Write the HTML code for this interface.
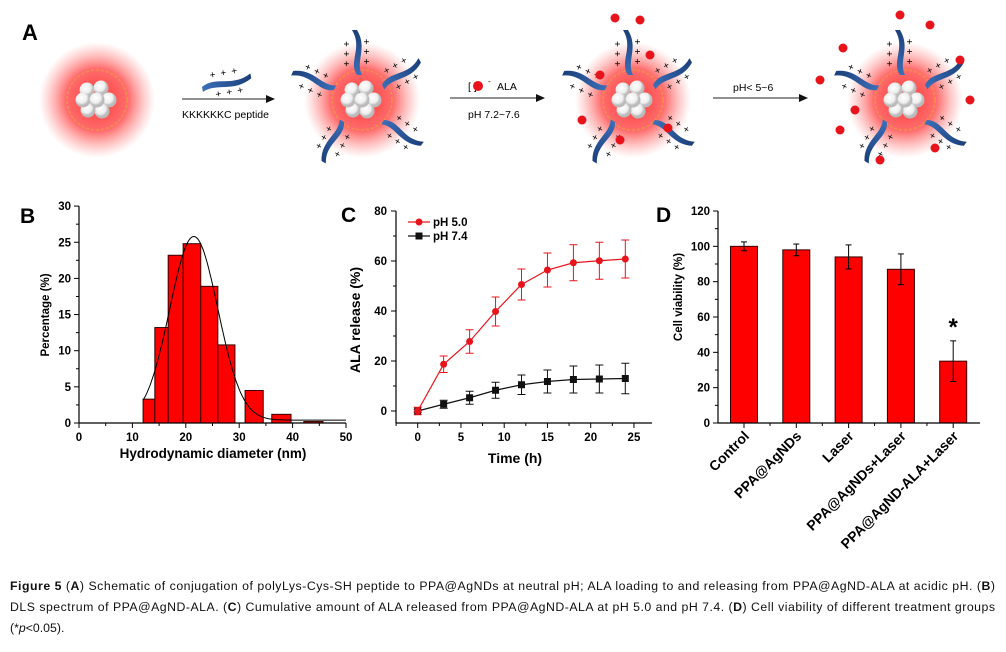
<!DOCTYPE html>
<html><head><meta charset="utf-8"><style>
body{margin:0;background:#fff;}
svg{display:block;font-family:"Liberation Sans",Arial,sans-serif;}
</style></head><body>
<svg id="fig" width="1006" height="652" viewBox="0 0 1006 652">
<defs>
<radialGradient id="glow"><stop offset="0" stop-color="#ff2a2a" stop-opacity="0.95"/><stop offset="0.55" stop-color="#ff4a4a" stop-opacity="0.8"/><stop offset="1" stop-color="#ff8080" stop-opacity="0"/></radialGradient>
<radialGradient id="ball" cx="0.4" cy="0.35"><stop offset="0" stop-color="#fff"/><stop offset="0.7" stop-color="#eee"/><stop offset="1" stop-color="#bbb"/></radialGradient>
<linearGradient id="pep" x1="0" x2="1"><stop offset="0" stop-color="#3b6fb8"/><stop offset="1" stop-color="#1b3f7a"/></linearGradient>
</defs>
<g id="schem">
<text x="22" y="40" font-size="22" font-weight="bold">A</text>
</g>
<g id="pb"></g>
<g id="pc"></g>
<g id="pd"></g>
<g font-size="12.3" fill="#111">
<text x="10" y="590" textLength="985" lengthAdjust="spacing"><tspan font-weight="bold">Figure 5</tspan> (<tspan font-weight="bold">A</tspan>) Schematic of conjugation of polyLys-Cys-SH peptide to PPA@AgNDs at neutral pH; ALA loading to and releasing from PPA@AgND-ALA at acidic pH. (<tspan font-weight="bold">B</tspan>)</text>
<text x="10" y="611" textLength="985" lengthAdjust="spacing">DLS spectrum of PPA@AgND-ALA. (<tspan font-weight="bold">C</tspan>) Cumulative amount of ALA released from PPA@AgND-ALA at pH 5.0 and pH 7.4. (<tspan font-weight="bold">D</tspan>) Cell viability of different treatment groups</text>
<text x="10" y="632">(*<tspan font-style="italic">p</tspan>&lt;0.05).</text>
</g>
</svg>
<script>
const NS="http://www.w3.org/2000/svg";
function mk(p,tag,a,txt){const e=document.createElementNS(NS,tag);for(const k in a)e.setAttribute(k,a[k]);if(txt!==undefined)e.textContent=txt;p.appendChild(e);return e;}

// ---------- Panel B data ----------
const binStart=[12.0,14.2,16.7,19.5,22.8,26.0,31.1,36.1,42.1];
const binEnd=[14.2,16.7,19.5,22.8,26.0,29.2,34.5,39.7,45.7];
const binPercent=[3.3,13.2,23.2,24.8,18.9,10.8,4.5,1.2,0.2];
const bXTicks=[0,10,20,30,40,50];
const bYTicks=[0,5,10,15,20,25,30];
const fitParams=[0.4,25.4,21.5,4.5]; // y0, A, center, sigma

// ---------- Panel C data ----------
const cTime=[0,3,6,9,12,15,18,21,24];
const cPH5=[0,18.7,27.8,39.8,50.6,56.4,59.3,60.1,60.8];
const cPH5Err=[1.5,3.3,4.7,5.8,6.2,6.8,7.2,7.4,7.6];
const cPH74=[0,2.7,5.3,8.3,10.5,11.8,12.6,12.8,13.0];
const cPH74Err=[0.5,1.6,2.6,3.2,3.9,4.6,5.4,5.6,6.1];
const cXTicks=[0,5,10,15,20,25];
const cYTicks=[0,20,40,60,80];

// ---------- Panel D data ----------
const dGroups=["Control","PPA@AgNDs","Laser","PPA@AgNDs+Laser","PPA@AgND-ALA+Laser"];
const dViability=[100,98,94,87,35];
const dErr=[2.5,3.3,6.8,8.7,11.5];
const dYTicks=[0,20,40,60,80,100,120];

// ---------- Schematic ----------
const S=document.getElementById('schem');
function particle(cx,cy,name){
  const g=mk(S,'g',{});
  
  
  mk(g,'circle',{cx,cy,r:58,fill:'url(#glow)'});
  mk(g,'circle',{cx,cy,r:30,fill:'none',stroke:'#e8a040','stroke-width':1.5,'stroke-dasharray':'3 2',opacity:0.7});
  const offs=[[-10,-10],[4,-12],[12,0],[5,11],[-9,10],[-14,0],[0,0]];
  offs.forEach(o=>mk(g,'circle',{cx:cx+o[0],cy:cy+o[1],r:7.5,fill:'url(#ball)'}));
  return g;
}
function peptide(g,x,y,ang,len){
  const p=mk(g,'g',{transform:`translate(${x},${y}) rotate(${ang})`});
  mk(p,'path',{d:`M0,0 C${len*0.3},-9 ${len*0.6},6 ${len},-5 L${len},0 C${len*0.6},11 ${len*0.3},-2 0,5 Z`,fill:'url(#pep)'});
  for(let i=0;i<3;i++){mk(p,'text',{x:len*0.25+i*len*0.22,y:-7,'font-size':10,'text-anchor':'middle'},'+');mk(p,'text',{x:len*0.3+i*len*0.22,y:13,'font-size':10,'text-anchor':'middle'},'+');}
}
particle(97,100,'bare-particle');
const p2=particle(362,100,'peptide-particle');
const p3=particle(633,100,'ala-loaded-particle');
const p4=particle(905,100,'ala-released-particle');
[[p2,362],[p3,633],[p4,905]].forEach(([g,cx])=>{
  [[-28,-10,-155],[20,-15,-30],[22,20,35],[-18,22,120],[-5,-25,-90]].forEach(a=>peptide(g,cx+a[0],100+a[1],a[2],45));
});
[[600,75],[650,55],[620,140],[668,128],[582,120],[640,20],[615,18]].forEach(p=>mk(p3,'circle',{cx:p[0],cy:p[1],r:4.5,fill:'#e8141c'}));
[[843,48],[840,130],[855,110],[935,148],[930,25],[880,160],[960,60],[970,100],[900,15],[820,80]].forEach(p=>mk(p4,'circle',{cx:p[0],cy:p[1],r:4.5,fill:'#e8141c'}));
function arrow(x1,x2,y,name){const g=mk(S,'g',{});mk(g,'line',{x1,y1:y,x2:x2-8,y2:y,stroke:'#222','stroke-width':1});mk(g,'path',{d:`M${x2-9},${y-4} L${x2},${y} L${x2-9},${y+4}Z`,fill:'#111'});return g;}
const a1=arrow(182,275,99,'arrow-peptide');
mk(a1,'text',{x:182,y:118,'font-size':10.5},'KKKKKKC peptide');
peptide(a1,202,87,-10,50);
const a2=arrow(450,545,98,'arrow-ala-loading');
mk(a2,'text',{x:468,y:90,'font-size':10.5},'[   ]');mk(a2,'circle',{cx:478,cy:86,r:5,fill:'#e8141c'});
mk(a2,'text',{x:488,y:84,'font-size':8},'-');mk(a2,'text',{x:497,y:90,'font-size':10.5},'ALA');
mk(a2,'text',{x:468,y:118,'font-size':10.5},'pH 7.2~7.6');
const a3=arrow(713,808,98,'arrow-acidic-release');
mk(a3,'text',{x:733,y:91,'font-size':10.5},'pH< 5~6');

// ---------- Generic axis helpers ----------
function axisY(g,x,yScale,ticks){
  mk(g,'line',{x1:x,y1:yScale(ticks[ticks.length-1]),x2:x,y2:yScale(ticks[0]),stroke:'#000','stroke-width':1.2});
  ticks.forEach(t=>{const y=yScale(t);mk(g,'line',{x1:x-5,y1:y,x2:x,y2:y,stroke:'#000'});const tx=mk(g,'text',{x:x-8,y:y+4,'font-size':11.5,'font-weight':'bold','text-anchor':'end'},t);});
  for(let i=0;i<ticks.length-1;i++){const y=yScale((ticks[i]+ticks[i+1])/2);mk(g,'line',{x1:x-3,y1:y,x2:x,y2:y,stroke:'#000'});}
}

// ---------- Panel B ----------
(function(){
  const g=document.getElementById('pb');
  const X=v=>79+v*5.34, Y=v=>423-v*7.23;
  mk(g,'text',{x:20,y:223,'font-size':21,'font-weight':'bold'},'B');
  binPercent.forEach((v,i)=>{const r=mk(g,'rect',{x:X(binStart[i]),y:Y(v),width:X(binEnd[i])-X(binStart[i]),height:Y(0)-Y(v),fill:'#f00',stroke:'#300','stroke-width':1});
    });
  let d='';for(let x=12;x<=50;x+=0.25){const y=fitParams[0]+fitParams[1]*Math.exp(-Math.pow(x-fitParams[2],2)/(2*fitParams[3]*fitParams[3]));d+=(d?'L':'M')+X(x).toFixed(1)+','+Y(y).toFixed(1);}
  const fit=mk(g,'path',{d,fill:'none',stroke:'#000','stroke-width':1});
  
  mk(g,'line',{x1:X(0),y1:Y(0),x2:X(50),y2:Y(0),stroke:'#000','stroke-width':1.2});
  bXTicks.forEach(t=>{mk(g,'line',{x1:X(t),y1:Y(0),x2:X(t),y2:Y(0)+5,stroke:'#000'});const tx=mk(g,'text',{x:X(t),y:Y(0)+18,'font-size':11.5,'font-weight':'bold','text-anchor':'middle'},t);});
  for(let t=5;t<50;t+=10)mk(g,'line',{x1:X(t),y1:Y(0),x2:X(t),y2:Y(0)+3,stroke:'#000'});
  axisY(g,X(0),Y,bYTicks);
  const xt=mk(g,'text',{x:213,y:458,'font-size':13.5,'font-weight':'bold','text-anchor':'middle'},'Hydrodynamic diameter (nm)');
  
  const yt=mk(g,'text',{x:0,y:0,'font-size':11.5,'font-weight':'bold','text-anchor':'middle',transform:'translate(49,315) rotate(-90)'},'Percentage (%)');
  
})();

// ---------- Panel C ----------
(function(){
  const g=document.getElementById('pc');
  const X=v=>417.7+v*8.65, Y=v=>411-v*2.5;
  mk(g,'text',{x:341,y:222,'font-size':21,'font-weight':'bold'},'C');
  mk(g,'line',{x1:396,y1:423,x2:652,y2:423,stroke:'#000','stroke-width':1.2});
  mk(g,'line',{x1:396,y1:Y(80),x2:396,y2:423,stroke:'#000','stroke-width':1.2});
  cXTicks.forEach(t=>{mk(g,'line',{x1:X(t),y1:423,x2:X(t),y2:428,stroke:'#000'});const tx=mk(g,'text',{x:X(t),y:441,'font-size':11.5,'font-weight':'bold','text-anchor':'middle'},t);});
  for(let t=-2.5;t<27;t+=5)mk(g,'line',{x1:X(t),y1:423,x2:X(t),y2:426,stroke:'#000'});
  cYTicks.forEach(t=>{mk(g,'line',{x1:391,y1:Y(t),x2:396,y2:Y(t),stroke:'#000'});const tx=mk(g,'text',{x:387,y:Y(t)+4,'font-size':11.5,'font-weight':'bold','text-anchor':'end'},t);});
  for(let t=10;t<80;t+=20)mk(g,'line',{x1:393,y1:Y(t),x2:396,y2:Y(t),stroke:'#000'});
  function series(vals,errs,col,marker,name){
    const s=mk(g,'g',{});
    vals.forEach((v,i)=>{const x=X(cTime[i]);mk(s,'line',{x1:x,y1:Y(v+errs[i]),x2:x,y2:Y(v-errs[i]),stroke:col,'stroke-width':1});
      mk(s,'line',{x1:x-4,y1:Y(v+errs[i]),x2:x+4,y2:Y(v+errs[i]),stroke:col});mk(s,'line',{x1:x-4,y1:Y(v-errs[i]),x2:x+4,y2:Y(v-errs[i]),stroke:col});});
    mk(s,'polyline',{points:vals.map((v,i)=>X(cTime[i])+','+Y(v)).join(' '),fill:'none',stroke:col,'stroke-width':1.2});
    vals.forEach((v,i)=>{const m=marker==='c'?mk(s,'circle',{cx:X(cTime[i]),cy:Y(v),r:3.5,fill:col}):mk(s,'rect',{x:X(cTime[i])-3.5,y:Y(v)-3.5,width:7,height:7,fill:col});
      });
  }
  series(cPH74,cPH74Err,'#111','s','series-ph-7-4');
  series(cPH5,cPH5Err,'#e8141c','c','series-ph-5-0');
  const lg=mk(g,'g',{});
  mk(lg,'line',{x1:408,y1:222,x2:430,y2:222,stroke:'#e8141c','stroke-width':1.2});mk(lg,'circle',{cx:419,cy:222,r:3.5,fill:'#e8141c'});
  mk(lg,'text',{x:433,y:226,'font-size':11.5,'font-weight':'bold'},'pH 5.0');
  mk(lg,'line',{x1:408,y1:236,x2:430,y2:236,stroke:'#111','stroke-width':1.2});mk(lg,'rect',{x:415.5,y:232.5,width:7,height:7,fill:'#111'});
  mk(lg,'text',{x:433,y:240,'font-size':11.5,'font-weight':'bold'},'pH 7.4');
  const xt=mk(g,'text',{x:515,y:463,'font-size':14,'font-weight':'bold','text-anchor':'middle'},'Time (h)');
  
  const yt=mk(g,'text',{x:0,y:0,'font-size':14,'font-weight':'bold','text-anchor':'middle',transform:'translate(360,320) rotate(-90)'},'ALA release (%)');
  
})();

// ---------- Panel D ----------
(function(){
  const g=document.getElementById('pd');
  const Y=v=>423-v*(212/120);
  const X=i=>744+i*52.3;
  mk(g,'text',{x:656,y:222,'font-size':21,'font-weight':'bold'},'D');
  dViability.forEach((v,i)=>{const x=X(i);
    const r=mk(g,'rect',{x:x-13.5,y:Y(v),width:27,height:Y(0)-Y(v),fill:'#f00',stroke:'#300','stroke-width':1});
    
    const e=dErr[i];mk(g,'line',{x1:x,y1:Y(v+e),x2:x,y2:Y(v-e),stroke:'#000'});
    mk(g,'line',{x1:x-3,y1:Y(v+e),x2:x+3,y2:Y(v+e),stroke:'#000'});mk(g,'line',{x1:x-3,y1:Y(v-e),x2:x+3,y2:Y(v-e),stroke:'#000'});
    mk(g,'line',{x1:x,y1:423,x2:x,y2:428,stroke:'#000'});
    const t=mk(g,'text',{x:0,y:0,'font-size':14,'font-weight':'bold','text-anchor':'end',transform:`translate(${x+6},${437}) rotate(-45)`},dGroups[i]);
    
  });
  for(let i=0;i<4;i++)mk(g,'line',{x1:X(i)+26,y1:423,x2:X(i)+26,y2:426,stroke:'#000'});
  mk(g,'line',{x1:718,y1:423,x2:980,y2:423,stroke:'#000','stroke-width':1.2});
  axisY(g,718,Y,dYTicks);
  const st=mk(g,'text',{x:X(4),y:Y(dViability[4]+dErr[4])-6,'font-size':24,'font-weight':'bold','text-anchor':'middle'},'*');
  
  const yt=mk(g,'text',{x:0,y:0,'font-size':11.5,'font-weight':'bold','text-anchor':'middle',transform:'translate(682,297) rotate(-90)'},'Cell viability (%)');
  
})();
</script>
</body></html>
